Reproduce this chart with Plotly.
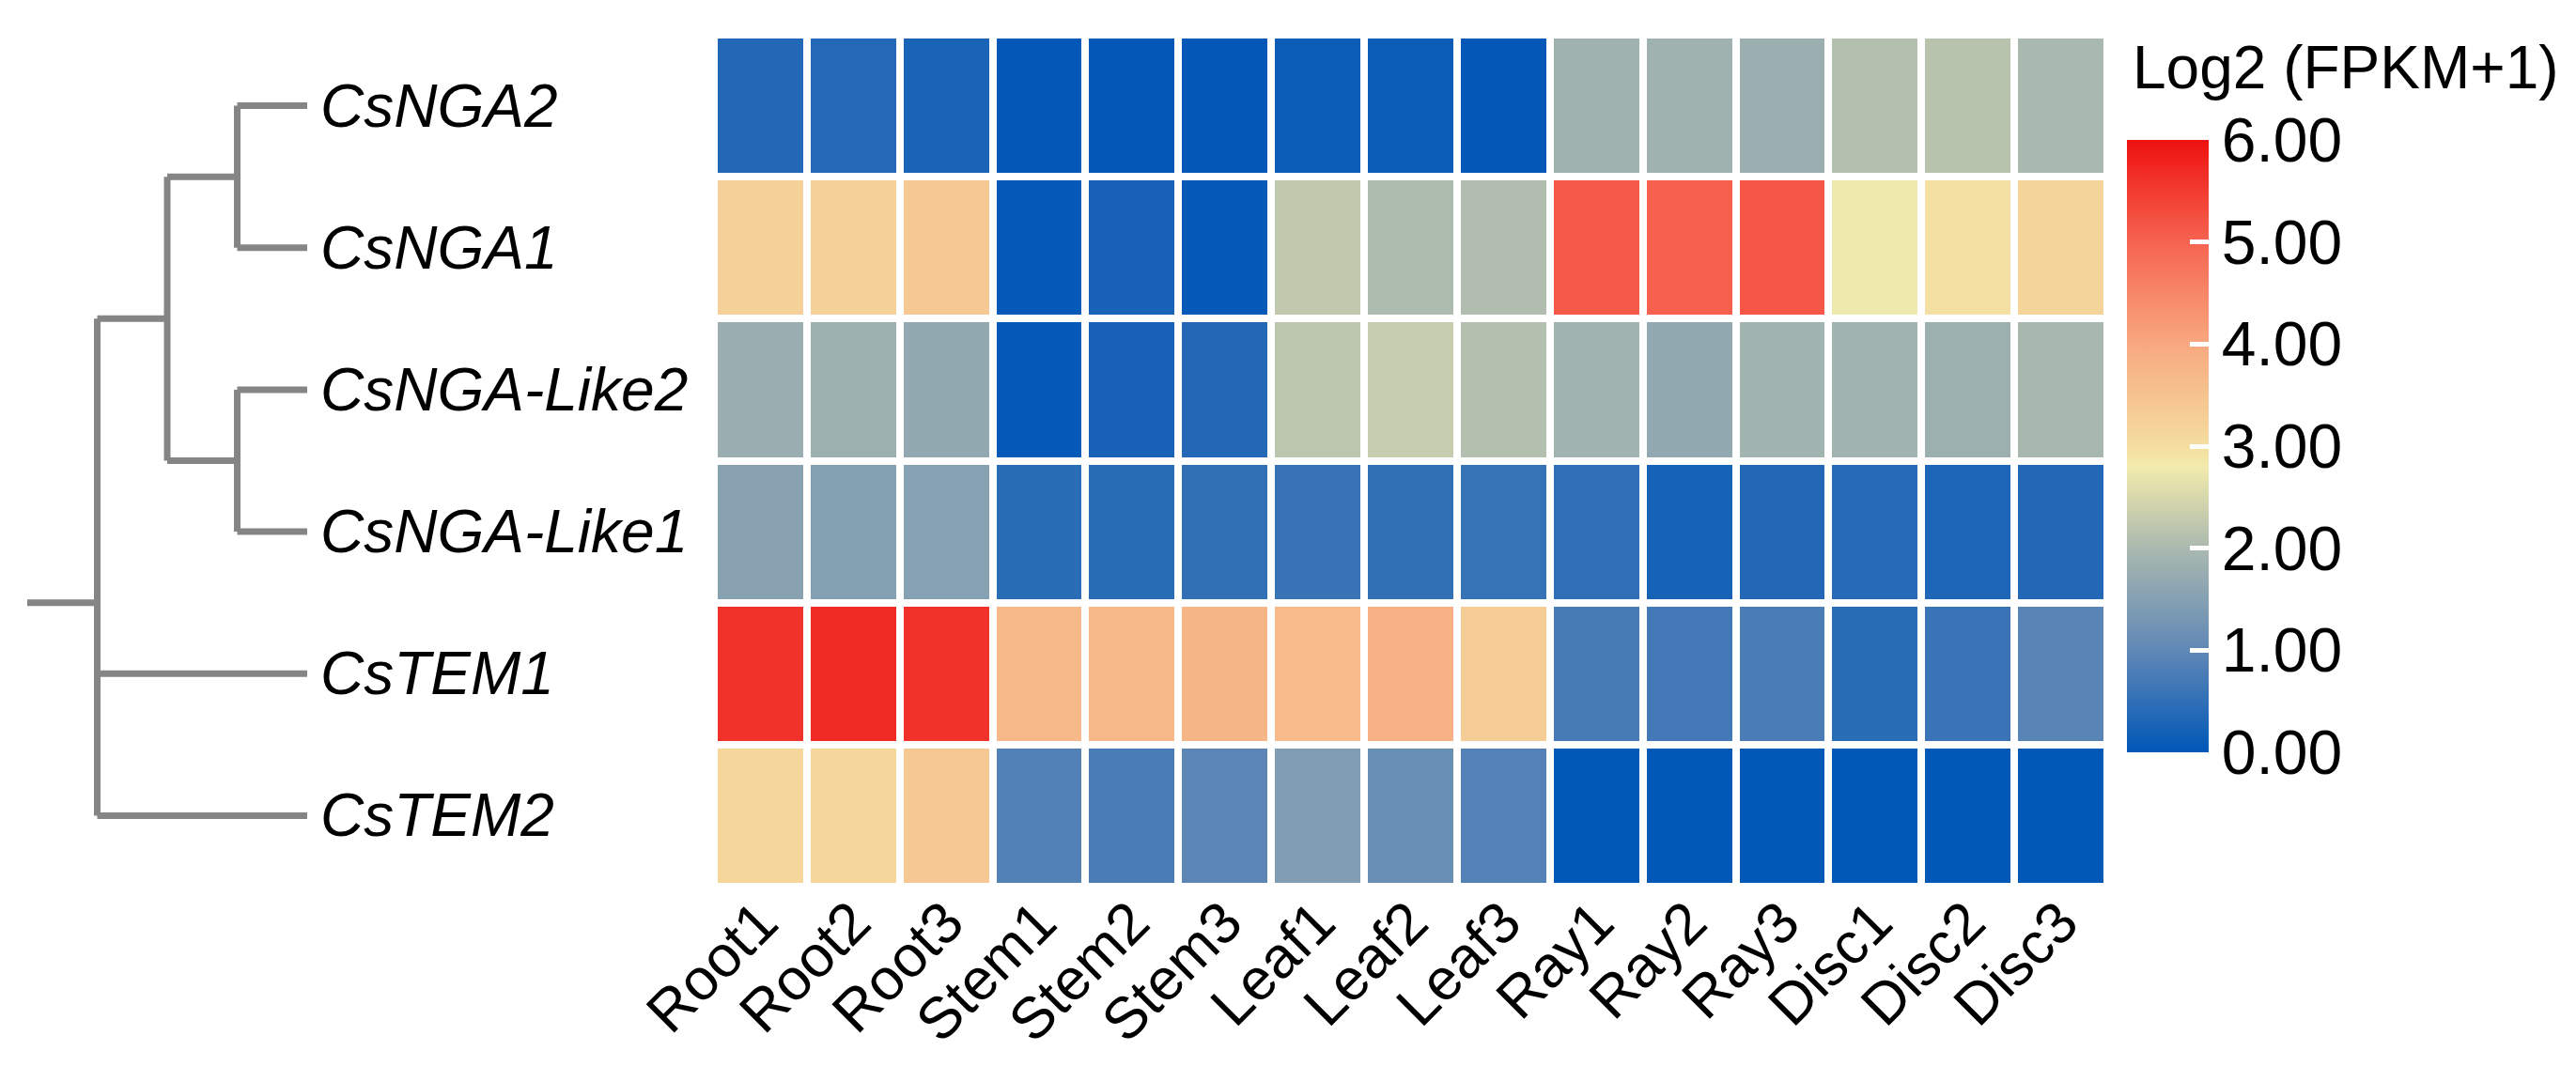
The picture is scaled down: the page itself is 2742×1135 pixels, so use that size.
import plotly.graph_objects as go

# ---------------- data ----------------
samples = ["Root1", "Root2", "Root3", "Stem1", "Stem2", "Stem3",
           "Leaf1", "Leaf2", "Leaf3", "Ray1", "Ray2", "Ray3",
           "Disc1", "Disc2", "Disc3"]
genes = ["CsNGA2", "CsNGA1", "CsNGA-Like2", "CsNGA-Like1", "CsTEM1", "CsTEM2"]

cs_nga2 = [0.35, 0.37, 0.27, 0.03, 0.03, 0.03, 0.10, 0.10, 0.03, 1.85, 1.85, 1.80, 2.11, 2.16, 1.99]
cs_nga1 = [3.26, 3.26, 3.40, 0.06, 0.25, 0.06, 2.24, 2.05, 2.07, 5.12, 5.05, 5.17, 2.76, 2.97, 3.19]
cs_nga_like2 = [1.78, 1.82, 1.68, 0.06, 0.25, 0.35, 2.20, 2.31, 2.11, 1.89, 1.68, 1.89, 1.89, 1.81, 1.97]
cs_nga_like1 = [1.54, 1.49, 1.51, 0.44, 0.44, 0.52, 0.58, 0.52, 0.56, 0.48, 0.23, 0.35, 0.40, 0.31, 0.35]
cs_tem1 = [5.60, 5.70, 5.60, 3.70, 3.70, 3.74, 3.67, 3.85, 3.33, 0.73, 0.69, 0.77, 0.44, 0.60, 0.92]
cs_tem2 = [3.15, 3.15, 3.40, 0.85, 0.77, 0.96, 1.43, 1.14, 0.88, 0.02, 0.02, 0.02, 0.02, 0.02, 0.02]

# dendrogram: (node name, children, height); leaves are gene indices
tree_nodes = [
    ("n1", [0, 1], 1),
    ("n2", [2, 3], 1),
    ("n3", ["n1", "n2"], 2),
    ("root", ["n3", 4, 5], 3),
]
root_stub_height = 4

cbar_ticks = [0, 1, 2, 3, 4, 5, 6]
cbar_title = "Log2 (FPKM+1)"

# ---------------- style ----------------
W, H = 2742, 1135
FONT = "Liberation Sans, Arial, sans-serif"
colorscale = [
    [0.0, "rgb(0,87,183)"],
    [1 / 6, "rgb(96,136,182)"],
    [2 / 6, "rgb(170,185,175)"],
    [2.8 / 6, "rgb(242,235,172)"],
    [0.5, "rgb(244,222,160)"],
    [4 / 6, "rgb(248,168,128)"],
    [5 / 6, "rgb(246,100,80)"],
    [1.0, "rgb(238,17,17)"],
]

z = [cs_nga2, cs_nga1, cs_nga_like2, cs_nga_like1, cs_tem1, cs_tem2]
rows = list(range(len(genes)))

hm_x0, hm_x1 = 752, 2235
hm_y0, hm_y1 = 29, 936
cb_left, cb_thick = 2256, 87
cb_top, cb_bot = 141, 793

fig = go.Figure()

fig.add_trace(go.Heatmap(
    z=z, x=list(range(len(samples))), y=rows,
    zmin=0, zmax=6, colorscale=colorscale,
    xgap=8, ygap=8, hoverinfo="skip",
    colorbar=dict(
        x=cb_left / W, xanchor="left", xpad=0,
        y=1 - (cb_top + cb_bot) / 2 / H, yanchor="middle", ypad=0,
        len=(cb_bot - cb_top) / H, lenmode="fraction",
        thickness=cb_thick, thicknessmode="pixels",
        outlinewidth=0,
        tickvals=cbar_ticks, ticktext=[f"{v:.2f}" for v in cbar_ticks],
        ticks="inside", ticklen=20, tickwidth=5, tickcolor="white",
        tickfont=dict(size=66, family=FONT, color="black"),
    ),
))

# left-side white ticks on the colorbar (mirrors of the tick marks)
for v in cbar_ticks:
    yy = 1 - (cb_bot - (cb_bot - cb_top) * v / 6) / H
    fig.add_shape(type="line", xref="paper", yref="paper",
                  x0=cb_left / W, x1=(cb_left + 20) / W, y0=yy, y1=yy,
                  line=dict(color="white", width=5))

# colorbar title
fig.add_annotation(x=(cb_left + 4) / W, y=1 - 64 / H, xref="paper", yref="paper",
                   text=cbar_title, showarrow=False, xanchor="left", yanchor="middle",
                   font=dict(size=64, family=FONT, color="black"))

# dendrogram
pos = {i: (0, float(i)) for i in rows}
seg_x, seg_y = [], []
for name, kids, h in tree_nodes:
    kid_pos = [pos[k] for k in kids]
    ys = [p[1] for p in kid_pos]
    for kh, ky in kid_pos:
        seg_x += [kh, h, None]
        seg_y += [ky, ky, None]
    seg_x += [h, h, None]
    seg_y += [min(ys), max(ys), None]
    pos[name] = (h, sum(ys) / len(ys))
rh, ry = pos["root"]
seg_x += [rh, root_stub_height, None]
seg_y += [ry, ry, None]

fig.add_trace(go.Scatter(
    x=seg_x, y=seg_y, xaxis="x2", yaxis="y", mode="lines",
    line=dict(color="#858585", width=7), hoverinfo="skip", showlegend=False,
))

for i, g in enumerate(genes):
    fig.add_annotation(x=0, y=i, xref="x2", yref="y", text=f"<i>{g}</i>",
                       showarrow=False, xanchor="left", yanchor="middle",
                       xshift=12, font=dict(size=64, family=FONT, color="black"))

fig.update_layout(
    width=W, height=H, margin=dict(l=0, r=0, t=0, b=0, autoexpand=False),
    paper_bgcolor="white", plot_bgcolor="white",
    showlegend=False,
    xaxis=dict(domain=[hm_x0 / W, hm_x1 / W], tickvals=list(range(len(samples))),
               ticktext=samples, tickangle=-45, showgrid=False, zeroline=False,
               showline=False, ticks="", tickfont=dict(size=62, family=FONT, color="black"),
               ticklabelstandoff=-12,
               range=[-0.5, len(samples) - 0.5], automargin=False),
    yaxis=dict(domain=[1 - hm_y1 / H, 1 - hm_y0 / H], range=[len(genes) - 0.5, -0.5],
               showticklabels=False, showgrid=False, zeroline=False, showline=False,
               ticks="", automargin=False),
    xaxis2=dict(domain=[21 / W, 319 / W], range=[root_stub_height, 0], anchor="y",
                visible=False, showgrid=False, zeroline=False),
)

fig.write_html("out.html")
